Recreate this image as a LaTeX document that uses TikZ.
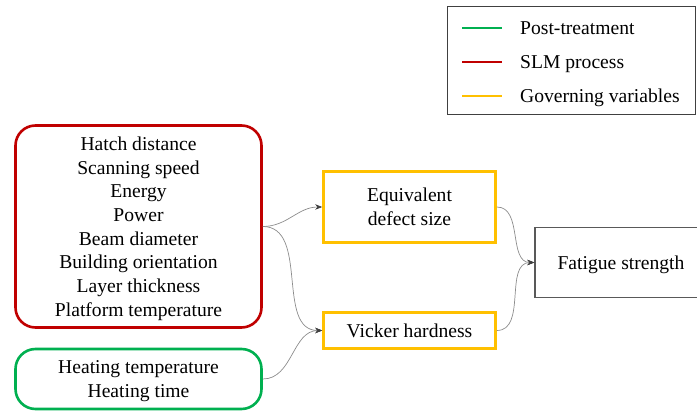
\documentclass[tikz,border=0pt]{standalone}
\usepackage{fontspec}
\setmainfont{Liberation Serif}
\usetikzlibrary{arrows.meta}

\definecolor{slmred}{RGB}{192,0,0}
\definecolor{postgreen}{RGB}{0,176,80}
\definecolor{govgold}{RGB}{255,192,0}
\definecolor{linkgray}{RGB}{140,140,140}
\definecolor{tipgray}{RGB}{64,64,64}

\begin{document}
\begin{tikzpicture}[x=1pt,y=-1pt,
  txt/.style={font=\fontsize{19.6}{23.7}\selectfont, align=center, inner sep=0pt,
    text depth=0pt},
  groupbox/.style={txt, draw, line width=2.6pt, rounded corners=20pt},
  varbox/.style={txt, draw=govgold, line width=2.6pt},
  resultbox/.style={txt, draw=black!65, line width=1.4pt},
  link/.style={draw=linkgray, line width=0.7pt, out=0, in=180,
    -{Stealth[length=7pt,width=5.5pt,color=tipgray]}},
  keyline/.style={line width=2.6pt},
  keytext/.style={txt, anchor=west}]

  \useasboundingbox (0,0) rectangle (697,411);

  % Legend
  \node[draw=black!75, line width=1pt, minimum width=248pt, minimum height=108pt,
        inner sep=0pt] (legend) at (571,61) {};
  \coordinate (k1a) at (462,28); \coordinate (k1b) at (502,28);
  \coordinate (k2a) at (462,62); \coordinate (k2b) at (502,62);
  \coordinate (k3a) at (462,96); \coordinate (k3b) at (502,96);
  \draw[keyline, postgreen] (k1a) -- (k1b);
  \draw[keyline, slmred] (k2a) -- (k2b);
  \draw[keyline, govgold] (k3a) -- (k3b);
  \node[keytext] (key1) at (520,28) {Post-treatment};
  \node[keytext] (key2) at (520,62) {SLM process};
  \node[keytext] (key3) at (520,96) {Governing variables};

  % Input groups
  \node[groupbox, draw=slmred, minimum width=246pt, minimum height=202pt] (slm)
    at (138.5,226.5) {Hatch distance\\Scanning speed\\Energy\\Power\\Beam diameter\\
      Building orientation\\Layer thickness\\Platform temperature};
  \node[groupbox, draw=postgreen, minimum width=246pt, minimum height=60pt] (post)
    at (138.5,379) {Heating temperature\\Heating time};

  % Governing variables
  \node[varbox, minimum width=172pt, minimum height=71pt] (defect)
    at (409.5,207) {Equivalent\\defect size};
  \node[varbox, minimum width=172pt, minimum height=36pt] (hard)
    at (409.5,330.5) {Vicker hardness};

  % Result
  \node[resultbox, minimum width=172pt, minimum height=70pt] (fatigue)
    at (621,262.5) {Fatigue strength};

  % Connectors
  \draw[link] (slm.east) to (defect.west);
  \draw[link] (slm.east) to (hard.west);
  \draw[link] (post.east) to (hard.west);
  \draw[link] (defect.east) to (fatigue.west);
  \draw[link] (hard.east) to (fatigue.west);
\end{tikzpicture}
\end{document}
